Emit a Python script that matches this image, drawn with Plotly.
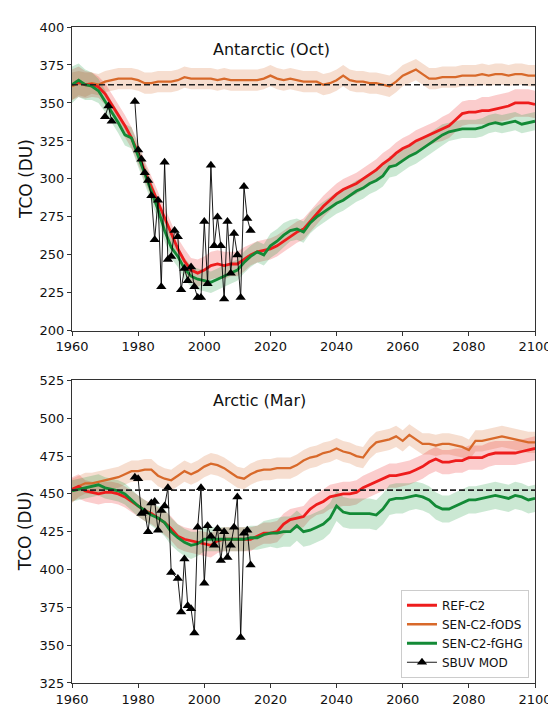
import numpy as np
import plotly.graph_objects as go

# ---------------- data ----------------
years = list(range(1960, 2101, 2))

# Antarctic (Oct)
ant_ref = [362, 364, 362, 362, 360.5, 356, 349, 342, 335, 327, 317, 305, 295, 285, 274, 264, 254, 246, 240, 238,
           240, 243, 244, 243, 244, 244, 247, 250, 252, 253, 254, 256, 259, 262, 265, 267, 272, 277, 282, 286,
           290, 293, 295, 297, 300, 303, 306, 310, 313, 317, 320, 322, 325, 327, 329, 331, 333, 335, 339, 343,
           344, 344, 345, 345, 346, 347, 348, 350, 350, 350, 349]
ant_fghg = [362, 365, 362, 361, 358, 351, 344, 337, 329, 327, 315, 303, 292, 280, 266, 255, 249, 241, 236, 234,
            233, 232, 234, 236, 238, 240, 245, 249, 252, 250, 256, 259, 263, 266, 267, 265, 271, 275, 278, 281,
            284, 286, 289, 292, 294, 297, 299, 302, 308, 309, 312, 315, 317, 320, 323, 326, 329, 331, 332, 333,
            333, 333, 334, 336, 337, 336, 337, 338, 336, 337, 338]
ant_fods = [361, 363, 362, 363, 362, 364, 365, 366, 366, 366, 365, 363, 363, 364, 364, 364, 365, 367, 366, 366,
            366, 366, 365, 366, 365, 365, 365, 365, 365, 366, 368, 366, 365, 366, 365, 364, 364, 364, 362, 363,
            365, 368, 365, 364, 364, 363, 363, 362, 361, 364, 368, 370, 372, 369, 366, 366, 367, 367, 367, 368,
            368, 368, 369, 368, 369, 369, 368, 369, 369, 368, 368]
ant_ref_sd = [10, 10, 9, 8, 7, 7, 7, 7, 7, 7, 7, 7, 7, 7, 7, 7, 7, 8, 8, 9, 9, 9, 9, 9, 8, 8, 8, 7, 7, 7, 7, 7, 7, 7, 7, 7,
              7, 7, 7, 7, 7, 7, 7, 7, 7, 7, 7, 7, 7, 7, 7, 7, 7, 7, 7, 7, 8, 8, 8, 8, 8, 8, 9, 9, 9, 9, 9, 9, 9, 9, 9]
ant_fghg_sd = [12, 11, 10, 9, 8, 7, 7, 7, 7, 7, 7, 7, 7, 7, 7, 7, 7, 7, 7, 7, 7, 7, 7, 7, 7, 7, 7, 7, 7, 7, 8, 8, 8, 7, 7, 7,
               7, 7, 7, 7, 7, 7, 7, 7, 7, 7, 7, 7, 7, 7, 7, 7, 7, 7, 7, 7, 7, 6, 6, 6, 6, 6, 6, 6, 6, 6, 6, 6, 6, 6, 6]
ant_fods_sd = [9, 8, 8, 7, 7, 7, 7, 7, 7, 7, 7, 7, 7, 7, 7, 7, 7, 7, 7, 7, 7, 7, 7, 7, 7, 7, 7, 7, 7, 7, 7, 7, 7, 7, 7, 7,
               7, 7, 7, 7, 7, 7, 7, 7, 7, 7, 7, 7, 7, 7, 7, 7, 7, 7, 7, 7, 7, 7, 7, 7, 7, 7, 7, 7, 7, 7, 7, 7, 7, 7, 7]
ant_sbuv_years = [1970, 1971, 1972, 1975, 1979, 1980, 1981, 1982, 1983, 1984, 1985, 1986, 1987, 1988, 1989, 1990,
                  1991, 1992, 1993, 1994, 1995, 1996, 1997, 1998, 1999, 2000, 2001, 2002, 2003, 2004, 2005, 2006,
                  2007, 2008, 2009, 2010, 2011, 2012, 2013, 2014]
ant_sbuv = [341, 348, 338, None, 351, 319, 313, 304, 299, 289, 260, 286, 229, 311, 247, 249,
            266, 262, 227, 241, 233, 242, 229, 222, 222, 272, 231, 309, 256, 275, 256, 221,
            272, 238, 264, 250, 222, 295, 274, 266]
ant_ref_line = 362

# Arctic (Mar)
arc_ref = [453, 455, 452, 451, 450, 451, 451, 450, 448, 445, 442, 439, 437, 434, 431, 427, 422, 420, 419, 418,
           417, 416, 419, 420, 420, 420, 420, 420, 422, 424, 424, 425, 430, 433, 434, 435, 440, 443, 445, 448,
           449, 450, 450, 451, 454, 456, 458, 460, 462, 462, 463, 464, 466, 468, 471, 473, 471, 471, 472, 472,
           474, 474, 474, 476, 477, 477, 477, 477, 478, 479, 480]
arc_fghg = [452, 453, 454, 455, 456, 454, 453, 452, 450, 446, 442, 439, 436, 434, 431, 425, 421, 418, 416, 417,
            420, 420, 420, 420, 420, 420, 420, 421, 421, 423, 424, 424, 425, 425, 429, 425, 426, 428, 430, 434,
            442, 438, 437, 437, 437, 437, 436, 440, 446, 447, 447, 448, 449, 448, 446, 442, 440, 440, 442, 444,
            446, 446, 447, 448, 449, 448, 447, 449, 448, 446, 447]
arc_fods = [452, 455, 457, 457, 458, 459, 460, 461, 463, 465, 465, 466, 466, 462, 460, 459, 462, 465, 463, 465,
            468, 470, 469, 467, 464, 461, 460, 463, 465, 466, 466, 467, 467, 467, 469, 472, 474, 475, 477, 478,
            480, 478, 477, 475, 474, 480, 484, 485, 486, 488, 485, 489, 486, 483, 483, 482, 483, 483, 482, 481,
            479, 485, 485, 486, 487, 488, 487, 486, 485, 484, 484]
arc_ref_sd = [8, 8, 7, 7, 7, 7, 7, 7, 7, 7, 7, 7, 7, 7, 8, 8, 8, 8, 8, 8, 8, 8, 8, 8, 8, 8, 8, 8, 7, 7, 7, 7, 7, 7, 7, 7,
              7, 7, 8, 8, 8, 8, 8, 8, 8, 8, 8, 8, 8, 8, 8, 8, 8, 8, 8, 8, 8, 8, 8, 8, 8, 8, 8, 8, 8, 8, 8, 8, 8, 8, 8]
arc_fghg_sd = [7, 7, 7, 7, 7, 7, 7, 7, 7, 7, 7, 7, 7, 8, 9, 9, 9, 9, 9, 8, 8, 8, 8, 8, 8, 8, 8, 8, 8, 9, 9, 10, 10, 10, 10, 10,
               10, 10, 10, 10, 10, 10, 10, 10, 10, 10, 10, 10, 10, 10, 10, 9, 9, 9, 9, 9, 9, 9, 9, 9, 9, 9, 9, 9, 9, 9, 9, 9, 9, 9, 9]
arc_fods_sd = [8, 7, 7, 7, 7, 7, 7, 7, 7, 7, 7, 7, 7, 7, 7, 7, 7, 7, 7, 7, 7, 7, 7, 7, 7, 7, 7, 7, 7, 7, 7, 7, 7, 7, 7, 7,
               7, 7, 7, 7, 7, 7, 7, 7, 7, 7, 7, 7, 7, 7, 7, 7, 7, 7, 7, 7, 7, 7, 7, 7, 7, 7, 7, 7, 7, 7, 7, 7, 7, 7, 7]
arc_sbuv_years = [1979, 1980, 1981, 1982, 1983, 1984, 1985, 1986, 1987, 1988, 1989, 1990, 1992, 1993, 1994, 1995,
                  1996, 1997, 1998, 1999, 2000, 2001, 2002, 2003, 2004, 2005, 2006, 2007, 2008, 2009, 2010, 2011,
                  2012, 2013, 2014]
arc_sbuv = [461, 460, 437, 438, 425, 444, 445, 426, 439, 442, 454, 398, 394, 372, 407, 376,
            374, 358, 428, 454, 391, 429, 422, 416, 427, 406, 425, 408, 416, 428, 448, 355,
            424, 426, 403]
arc_ref_line = 452.5

x_ticks = [1960, 1980, 2000, 2020, 2040, 2060, 2080, 2100]
ant_y_ticks = [200, 225, 250, 275, 300, 325, 350, 375, 400]
arc_y_ticks = [325, 350, 375, 400, 425, 450, 475, 500, 525]

names = ["REF-C2", "SEN-C2-fODS", "SEN-C2-fGHG", "SBUV MOD"]

# ---------------- styles ----------------
C_RED = "#ee1c1c"
C_ORG = "#d8692a"
C_GRN = "#138a36"
F_RED = "rgba(238,28,28,0.22)"
F_ORG = "rgba(216,105,42,0.22)"
F_GRN = "rgba(19,150,54,0.22)"
FONT = "DejaVu Sans"

fig = go.Figure()


def add_band(xs, vals, sd, fill, xa, ya):
    v = np.array(vals, float)
    s = np.array(sd, float)
    xx = list(xs) + list(xs)[::-1]
    yy = list(v + s) + list((v - s)[::-1])
    fig.add_trace(go.Scatter(x=xx, y=yy, fill="toself", fillcolor=fill, line=dict(width=0),
                             mode="lines", hoverinfo="skip", showlegend=False, xaxis=xa, yaxis=ya))


def add_panel(ref, fods, fghg, ref_sd, fods_sd, fghg_sd, sy, sv, xa, ya, legend):
    add_band(years, fods, fods_sd, F_ORG, xa, ya)
    add_band(years, ref, ref_sd, F_RED, xa, ya)
    add_band(years, fghg, fghg_sd, F_GRN, xa, ya)
    fig.add_trace(go.Scatter(x=years, y=fods, mode="lines", line=dict(color=C_ORG, width=2.3),
                             name=names[1], legendrank=2, showlegend=legend, xaxis=xa, yaxis=ya))
    fig.add_trace(go.Scatter(x=years, y=ref, mode="lines", line=dict(color=C_RED, width=2.8),
                             name=names[0], legendrank=1, showlegend=legend, xaxis=xa, yaxis=ya))
    fig.add_trace(go.Scatter(x=years, y=fghg, mode="lines", line=dict(color=C_GRN, width=2.8),
                             name=names[2], legendrank=3, showlegend=legend, xaxis=xa, yaxis=ya))
    fig.add_trace(go.Scatter(x=sy, y=sv, mode="lines+markers", line=dict(color="black", width=0.9),
                             marker=dict(symbol="triangle-up", size=9, color="black"),
                             connectgaps=False, name=names[3], legendrank=4, showlegend=legend,
                             xaxis=xa, yaxis=ya))


add_panel(ant_ref, ant_fods, ant_fghg, ant_ref_sd, ant_fods_sd, ant_fghg_sd,
          ant_sbuv_years, ant_sbuv, "x", "y", False)
add_panel(arc_ref, arc_fods, arc_fghg, arc_ref_sd, arc_fods_sd, arc_fghg_sd,
          arc_sbuv_years, arc_sbuv, "x2", "y2", True)

# reference dashed lines
fig.add_shape(type="line", xref="x domain", yref="y", x0=0, x1=1, y0=ant_ref_line, y1=ant_ref_line,
              line=dict(color="#222", width=1.6, dash="6px,3px"))
fig.add_shape(type="line", xref="x2 domain", yref="y2", x0=0, x1=1, y0=arc_ref_line, y1=arc_ref_line,
              line=dict(color="#222", width=1.6, dash="6px,3px"))

ax_common = dict(showline=True, linecolor="#333", linewidth=1, mirror=True, ticks="outside",
                 ticklen=4, tickcolor="#333", showgrid=False, zeroline=False,
                 tickfont=dict(family=FONT, size=13, color="#111"))

fig.update_layout(
    width=556, height=711,
    margin=dict(l=64, r=19, t=18, b=21),
    paper_bgcolor="white", plot_bgcolor="white",
    font=dict(family=FONT, color="#111"),
    xaxis=dict(domain=[0, 1], range=[1960, 2100], tickvals=x_ticks, anchor="y", **ax_common),
    yaxis=dict(domain=[0.5368, 1.0], range=[200, 400], tickvals=ant_y_ticks, anchor="x", **ax_common),
    xaxis2=dict(domain=[0, 1], range=[1960, 2100], tickvals=x_ticks, anchor="y2", **ax_common),
    yaxis2=dict(domain=[0, 0.4613], range=[325, 525], tickvals=arc_y_ticks, anchor="x2", **ax_common),
    showlegend=True,
    legend=dict(x=0.987, y=0.008, xanchor="right", yanchor="bottom", bgcolor="white",
                bordercolor="#cccccc", borderwidth=1, font=dict(family=FONT, size=12, color="#111"),
                tracegroupgap=0, itemwidth=30),
    annotations=[
        dict(text="Antarctic (Oct)", x=0.43, y=0.965, xref="paper", yref="paper", showarrow=False,
             font=dict(family=FONT, size=16, color="#111"), xanchor="center", yanchor="middle"),
        dict(text="Arctic (Mar)", x=0.404, y=0.43, xref="paper", yref="paper", showarrow=False,
             font=dict(family=FONT, size=16, color="#111"), xanchor="center", yanchor="middle"),
        dict(text="TCO (DU)", x=-0.1, y=0.768, xref="paper", yref="paper", showarrow=False,
             textangle=-90, font=dict(family=FONT, size=17, color="#111"), xanchor="center", yanchor="middle"),
        dict(text="TCO (DU)", x=-0.1, y=0.231, xref="paper", yref="paper", showarrow=False,
             textangle=-90, font=dict(family=FONT, size=17, color="#111"), xanchor="center", yanchor="middle"),
    ],
)

fig.write_html("out.html")
